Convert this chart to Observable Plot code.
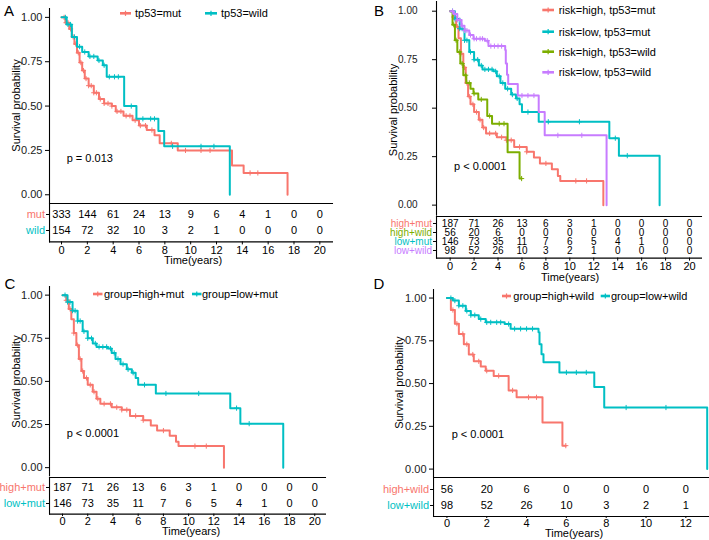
<!DOCTYPE html>
<html><head><meta charset="utf-8">
<script src="https://cdn.jsdelivr.net/npm/d3@7"></script>
<script src="https://cdn.jsdelivr.net/npm/@observablehq/plot@0.6"></script>
<style>
body{margin:0;background:#fff;}
#root{position:relative;width:709px;height:540px;overflow:hidden;background:#fff;}
#root svg{position:absolute;overflow:visible;}
</style></head><body><div id="root"></div>
<script>
// ---------- data ----------
const timeTicks20 = [0, 2, 4, 6, 8, 10, 12, 14, 16, 18, 20];
const timeTicks12 = [0, 2, 4, 6, 8, 10, 12];
const survTicks = [0, 0.25, 0.5, 0.75, 1];

// Kaplan-Meier step points [time (years), survival]
const tp53Mut = [[0,1],[0.3,0.97],[0.6,0.935],[0.8,0.89],[1.0,0.85],[1.2,0.80],[1.4,0.745],[1.6,0.70],[1.8,0.655],[2.1,0.615],[2.5,0.575],[2.9,0.54],[3.3,0.515],[3.9,0.50],[4.2,0.47],[4.8,0.445],[5.5,0.42],[6.0,0.39],[6.6,0.365],[7.2,0.335],[7.6,0.29],[9.0,0.25],[13.2,0.165],[14.1,0.123],[17.5,0]];
const tp53Wild = [[0,1],[0.4,0.96],[0.8,0.89],[1.2,0.835],[1.6,0.805],[2.1,0.78],[2.8,0.757],[3.2,0.73],[3.5,0.665],[4.85,0.50],[5.8,0.428],[7.5,0.36],[7.95,0.273],[13.03,0]];
const highMut = [[0,1],[0.3,0.97],[0.5,0.92],[0.7,0.86],[0.9,0.78],[1.1,0.71],[1.3,0.63],[1.5,0.56],[1.7,0.52],[2.0,0.48],[2.4,0.44],[2.7,0.40],[3.0,0.37],[3.9,0.35],[4.7,0.335],[5.35,0.30],[6.4,0.275],[7.0,0.245],[7.5,0.215],[8.5,0.185],[9.0,0.15],[9.2,0.125],[12.8,0]];
const lowMut = [[0,1],[0.4,0.96],[0.8,0.91],[1.2,0.85],[1.6,0.79],[2.0,0.75],[2.4,0.72],[2.7,0.70],[3.6,0.69],[3.9,0.665],[4.2,0.63],[4.6,0.60],[5.1,0.57],[5.5,0.55],[5.8,0.52],[6.0,0.48],[7.4,0.43],[13.3,0.345],[14.1,0.255],[17.5,0]];
const highWild = [[0,1],[0.2,0.93],[0.4,0.85],[0.6,0.79],[0.85,0.73],[1.1,0.67],[1.35,0.63],[1.7,0.60],[1.95,0.575],[2.35,0.545],[3.1,0.46],[3.5,0.42],[4.8,0.273],[5.8,0.137],[5.97,0.137]];
const lowWild = [[0,1],[0.3,0.985],[0.6,0.955],[0.95,0.925],[1.2,0.90],[1.6,0.877],[1.95,0.858],[2.9,0.848],[3.2,0.82],[4.6,0.80],[4.65,0.73],[4.75,0.672],[4.85,0.624],[5.65,0.565],[7.4,0.48],[7.9,0.36],[13.07,0]];

// censoring times (years)
const censTp53Mut = [0.2,0.35,0.5,0.7,0.9,1.1,1.3,1.5,1.7,1.9,2.1,2.3,2.5,2.7,3.0,3.3,3.6,3.9,4.3,4.6,5.0,5.3,5.7,6.1,6.5,7.0,8.5,9.6,10.8,11.5,14.6,15.2];
const censTp53Wild = [0.3,0.5,0.7,1.0,1.4,1.8,2.2,2.5,2.9,3.3,3.7,4.1,4.4,5.4,6.3,6.9,7.2,8.6,10.8,11.8];
const censHighMut = [0.3,0.6,0.9,1.2,1.4,1.6,1.9,2.2,2.5,2.8,3.3,3.8,4.3,4.7,5.1,5.8,6.4,8.0,10.5,11.4];
const censLowMut = [0.2,0.4,0.6,0.8,1.0,1.2,1.4,1.7,2.0,2.3,2.6,2.9,3.2,3.5,3.8,4.1,4.4,4.8,5.2,5.6,6.5,8.2,10.8,13.8,14.8];
const censHighWild = [0.3,0.5,0.8,1.0,1.3,1.6,2.0,2.6,3.3,4.1,4.5,5.97];
const censLowWild = [0.2,0.4,0.6,0.8,1.0,1.2,1.4,1.7,2.0,2.2,2.5,2.7,3.1,3.4,3.7,4.0,4.3,6.0,6.5,7.0,9.0,11.0];

// numbers at risk
const groupsA = ["mut", "wild"];
const riskA = [[333,144,61,24,13,9,6,4,1,0,0],[154,72,32,10,3,2,1,0,0,0,0]];
const groupsB = ["high+mut", "high+wild", "low+mut", "low+wild"];
const riskB = [[187,71,26,13,6,3,1,0,0,0,0],[56,20,6,0,0,0,0,0,0,0,0],[146,73,35,11,7,6,5,4,1,0,0],[98,52,26,10,3,2,1,0,0,0,0]];
const groupsC = ["high+mut", "low+mut"];
const riskC = [[187,71,26,13,6,3,1,0,0,0,0],[146,73,35,11,7,6,5,4,1,0,0]];
const groupsD = ["high+wild", "low+wild"];
const riskD = [[56,20,6,0,0,0,0],[98,52,26,10,3,2,1]];

const legendA = ["tp53=mut", "tp53=wild"];
const legendB = ["risk=high, tp53=mut", "risk=low, tp53=mut", "risk=high, tp53=wild", "risk=low, tp53=wild"];
const legendC = ["group=high+mut", "group=low+mut"];
const legendD = ["group=high+wild", "group=low+wild"];
const pValues = ["p = 0.013", "p < 0.0001", "p < 0.0001", "p < 0.0001"];

// ---------- styling ----------
const RED = "#F8766D", CYAN = "#00BFC4", GREEN = "#7CAE00", PURPLE = "#C77CFF";
const FONT = "'Liberation Sans', Arial, Helvetica, sans-serif";
const root = document.getElementById("root");

function survAt(pts, t) { let s = 1; for (const [ti, si] of pts) if (ti <= t) s = si; return s; }

function place(opts, frame, m) {
  const width = frame.r - frame.l + m.l + m.r;
  const height = frame.b - frame.t + m.t + m.b;
  const svg = Plot.plot({
    ...opts, width, height,
    marginLeft: m.l, marginRight: m.r, marginTop: m.t, marginBottom: m.b,
    style: {background: "none", overflow: "visible", fontFamily: FONT, fontSize: "11px", color: "black"}
  });
  svg.style.position = "absolute";
  svg.style.left = (frame.l - m.l) + "px";
  svg.style.top = (frame.t - m.t) + "px";
  svg.style.maxWidth = "none";
  root.appendChild(svg);
}

function km({frame, xDomain, yDomain, curves, tickPadding = 3, fontSize = 11}) {
  const marks = [
    Plot.ruleX([xDomain[0]], {stroke: "black", strokeWidth: 1.1}),
    Plot.axisY(survTicks, {tickSize: 4, tickPadding, tickFormat: d3.format(".2f"), label: null, fontSize, fill: "#1a1a1a"})
  ];
  for (const c of curves) {
    marks.push(Plot.line(c.pts, {x: d => d[0], y: d => d[1], curve: "step-after", stroke: c.color, strokeWidth: 2}));
    marks.push(Plot.dot(c.cens, {x: d => d, y: d => survAt(c.pts, d), symbol: "plus", r: 1.8, stroke: c.color, fill: "none", strokeWidth: 1}));
  }
  place({x: {domain: xDomain, axis: null}, y: {domain: yDomain}, marks}, frame, {l: 50, r: 6, t: 6, b: 2});
}

function table({frame, xDomain, groups, colors, counts, ticks, padding, tickSize = 3, tickPadding = 1, fontSize = 11}) {
  const rows = [];
  groups.forEach((g, i) => ticks.forEach((t, j) => rows.push({g, t, n: counts[i][j]})));
  const marks = [
    Plot.frame({anchor: "top", strokeWidth: 1.1}),
    Plot.frame({anchor: "bottom", strokeWidth: 1.1}),
    Plot.frame({anchor: "left", strokeWidth: 1.1}),
    Plot.text(rows, {x: "t", y: "g", text: d => String(d.n), fontSize}),
    Plot.axisY(groups, {tickSize: 3, tickFormat: () => "", label: null}),
    Plot.axisX(ticks, {tickSize, tickPadding, label: null, fontSize: 11})
  ];
  groups.forEach((g, i) => marks.push(Plot.text([g], {y: d => d, frameAnchor: "left", textAnchor: "end", dx: -4.5, fill: colors[i], fontSize})));
  place({x: {domain: xDomain}, y: {type: "point", domain: groups, padding}, marks}, frame, {l: 60, r: 6, t: 2, b: 20});
}

// ---------- Panel A ----------
km({frame: {l: 49, t: 7.8, r: 332, b: 203.3}, xDomain: [-0.93, 20.98], yDomain: [-0.052, 1.05],
  curves: [{pts: tp53Mut, cens: censTp53Mut, color: RED}, {pts: tp53Wild, cens: censTp53Wild, color: CYAN}]});
table({frame: {l: 49, t: 203.3, r: 332, b: 241.7}, xDomain: [-0.93, 20.98], groups: groupsA, colors: [RED, CYAN],
  counts: riskA, ticks: timeTicks20, padding: 0.63});

// ---------- Panel B ----------
km({frame: {l: 436, t: 1.0, r: 701, b: 215.7}, xDomain: [-1.14, 21], yDomain: [-0.057, 1.05], tickPadding: 15, fontSize: 10,
  curves: [{pts: highMut, cens: censHighMut, color: RED}, {pts: lowMut, cens: censLowMut, color: CYAN},
           {pts: highWild, cens: censHighWild, color: GREEN}, {pts: lowWild, cens: censLowWild, color: PURPLE}]});
table({frame: {l: 436, t: 215.7, r: 701, b: 257.3}, xDomain: [-1.14, 21], groups: groupsB, colors: [RED, GREEN, CYAN, PURPLE],
  counts: riskB, ticks: timeTicks20, padding: 0.6, tickPadding: 1.5, fontSize: 10});

// ---------- Panel C ----------
km({frame: {l: 49, t: 286.4, r: 325, b: 476.7}, xDomain: [-1.03, 20.85], yDomain: [-0.053, 1.05],
  curves: [{pts: highMut, cens: censHighMut, color: RED}, {pts: lowMut, cens: censLowMut, color: CYAN}]});
table({frame: {l: 49, t: 476.7, r: 325, b: 513.3}, xDomain: [-1.03, 20.85], groups: groupsC, colors: [RED, CYAN],
  counts: riskC, ticks: timeTicks20, padding: 0.6, tickSize: 2.5, tickPadding: 0.5});

// ---------- Panel D ----------
km({frame: {l: 433.3, t: 288.7, r: 709, b: 476.7}, xDomain: [-0.673, 13.17], yDomain: [-0.049, 1.05],
  curves: [{pts: highWild, cens: censHighWild, color: RED}, {pts: lowWild, cens: censLowWild, color: CYAN}]});
table({frame: {l: 433.3, t: 476.7, r: 709, b: 515.7}, xDomain: [-0.673, 13.17], groups: groupsD, colors: [RED, CYAN],
  counts: riskD, ticks: timeTicks12, padding: 0.67, tickSize: 2, tickPadding: 0.5});

// ---------- overlay: letters, labels, legends, p-values ----------
const ov = d3.select(root).append("svg").attr("width", 709).attr("height", 540)
  .style("left", "0px").style("top", "0px").attr("font-family", FONT);

function txt(x, y, s, {size = 11, anchor = "start", fill = "black", rotate = 0} = {}) {
  ov.append("text").attr("transform", `translate(${x},${y}) rotate(${rotate})`)
    .attr("text-anchor", anchor).attr("dominant-baseline", "central")
    .attr("font-size", size).attr("fill", fill).text(s);
}
function key(x1, x2, y, color) {
  ov.append("line").attr("x1", x1).attr("x2", x2).attr("y1", y).attr("y2", y).attr("stroke", color).attr("stroke-width", 2.6);
  const cx = (x1 + x2) / 2;
  ov.append("line").attr("x1", cx).attr("x2", cx).attr("y1", y - 2.6).attr("y2", y + 2.6).attr("stroke", color).attr("stroke-width", 1.2);
}

// panel letters
txt(9, 10, "A", {size: 15, anchor: "middle"});
txt(379, 10, "B", {size: 15, anchor: "middle"});
txt(10, 283, "C", {size: 15, anchor: "middle"});
txt(379, 283, "D", {size: 15, anchor: "middle"});

// y-axis titles
txt(16.3, 105.5, "Survival probability", {anchor: "middle", rotate: -90});
txt(393, 110, "Survival probability", {anchor: "middle", rotate: -90});
txt(16, 381.5, "Survival probability", {anchor: "middle", rotate: -90});
txt(399, 382.7, "Survival probability", {anchor: "middle", rotate: -90});

// x-axis titles
txt(193, 260, "Time(years)", {anchor: "middle"});
txt(570, 277, "Time(years)", {anchor: "middle"});
txt(191, 531, "Time(years)", {anchor: "middle"});
txt(574, 533, "Time(years)", {anchor: "middle"});

// p-values
txt(66.7, 157.7, pValues[0]);
txt(454, 165.7, pValues[1]);
txt(66.7, 433.3, pValues[2]);
txt(451.7, 434.3, pValues[3]);

// legends
key(120, 131, 13.3, RED); txt(135, 13.3, legendA[0]);
key(205, 217, 13.3, CYAN); txt(221, 13.3, legendA[1]);
[RED, CYAN, GREEN, PURPLE].forEach((c, i) => {
  const y = [10, 31.7, 51.7, 72.3][i];
  key(542.3, 554, y, c); txt(558.7, y, legendB[i]);
});
key(93, 102.5, 294, RED); txt(104, 294, legendC[0]);
key(192, 201.5, 294, CYAN); txt(202, 294, legendC[1]);
key(502, 511, 296, RED); txt(513.3, 296, legendD[0]);
key(600.7, 610, 296, CYAN); txt(611, 296, legendD[1]);
</script></body></html>
